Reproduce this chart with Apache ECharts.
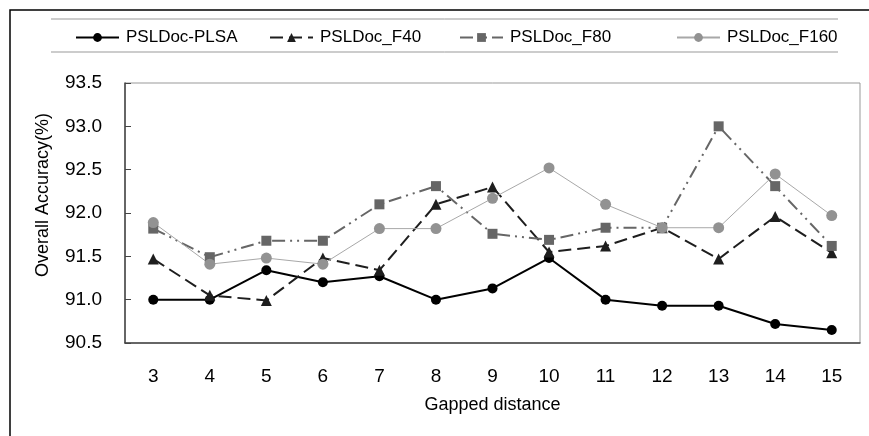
<!DOCTYPE html>
<html>
<head>
<meta charset="utf-8">
<script src="https://cdn.jsdelivr.net/npm/echarts@6/dist/echarts.min.js"></script>
<style>
html,body{margin:0;padding:0;background:#fff;}
#chart{width:869px;height:436px;}
</style>
</head>
<body>
<div id="chart"></div>
<script>
const categories = ['3','4','5','6','7','8','9','10','11','12','13','14','15'];
const seriesNames = ['PSLDoc-PLSA','PSLDoc_F40','PSLDoc_F80','PSLDoc_F160'];
const plsa = [91.00, 91.00, 91.34, 91.20, 91.27, 91.00, 91.13, 91.48, 91.00, 90.93, 90.93, 90.72, 90.65];
const f40  = [91.47, 91.05, 90.99, 91.48, 91.34, 92.10, 92.30, 91.55, 91.62, 91.83, 91.47, 91.96, 91.54];
const f80  = [91.82, 91.49, 91.68, 91.68, 92.10, 92.31, 91.76, 91.69, 91.83, 91.83, 93.00, 92.31, 91.62];
const f160 = [91.89, 91.41, 91.48, 91.41, 91.82, 91.82, 92.17, 92.52, 92.10, 91.83, 91.83, 92.45, 91.97];
const yTicks = { min: 90.5, max: 93.5, step: 0.5 };

const FONT = 'Liberation Sans, Arial, sans-serif';
const chart = echarts.init(document.getElementById('chart'));

function legendItem(name, left) {
  return {
    data: [name], left: left, top: 29, padding: 0, itemWidth: 43, itemHeight: 11, itemGap: 0,
    textStyle: { fontFamily: FONT, fontSize: 17, color: '#000', padding: [0,0,0,2] },
    selectedMode: false
  };
}

chart.setOption({
  backgroundColor: '#fff',
  animation: false,
  textStyle: { fontFamily: FONT },
  graphic: [
    { type: 'rect', shape: { x: 10, y: 10, width: 1000, height: 600 },
      style: { fill: 'none', stroke: '#000', lineWidth: 1.5 }, silent: true },
    { type: 'line', shape: { x1: 51, y1: 19, x2: 838, y2: 19 },
      style: { stroke: '#999', lineWidth: 1 }, silent: true },
    { type: 'line', shape: { x1: 51, y1: 52, x2: 838, y2: 52 },
      style: { stroke: '#999', lineWidth: 1 }, silent: true },
    { type: 'text', x: 43, y: 195, rotation: Math.PI / 2,
      style: { text: 'Overall Accuracy(%)', fontFamily: FONT, fontSize: 18, fill: '#000',
               textAlign: 'center', textVerticalAlign: 'middle' }, silent: true }
  ],
  legend: [
    legendItem(seriesNames[0], 75),
    legendItem(seriesNames[1], 269),
    legendItem(seriesNames[2], 459),
    legendItem(seriesNames[3], 676)
  ],
  grid: { left: 125, right: 9, top: 83, bottom: 93, show: true, borderColor: '#999', borderWidth: 1 },
  xAxis: {
    type: 'category', data: categories, boundaryGap: true,
    name: 'Gapped distance', nameLocation: 'middle', nameGap: 53,
    nameTextStyle: { fontFamily: FONT, fontSize: 18, color: '#000' },
    axisLine: { lineStyle: { color: '#444', width: 1.5 } },
    axisTick: { alignWithLabel: true, length: 5, lineStyle: { color: '#444' } },
    axisLabel: { fontFamily: FONT, fontSize: 19, color: '#000', margin: 24 },
    splitLine: { show: false }
  },
  yAxis: {
    type: 'value', min: yTicks.min, max: yTicks.max, interval: yTicks.step,
    axisLine: { show: true, lineStyle: { color: '#444', width: 1.5 } },
    axisTick: { show: true, inside: true, length: 6, lineStyle: { color: '#444' } },
    axisLabel: { fontFamily: FONT, fontSize: 19, color: '#000', margin: 23,
                 formatter: v => v.toFixed(1) },
    splitLine: { show: false }
  },
  series: [
    { name: seriesNames[0], type: 'line', data: plsa, symbol: 'circle', symbolSize: 10,
      itemStyle: { color: '#000' }, lineStyle: { color: '#000', width: 2 } },
    { name: seriesNames[1], type: 'line', data: f40, symbol: 'triangle', symbolSize: 11,
      itemStyle: { color: '#1e1e1e' }, lineStyle: { color: '#1e1e1e', width: 2, type: [13, 6] } },
    { name: seriesNames[2], type: 'line', data: f80, symbol: 'rect', symbolSize: 10,
      itemStyle: { color: '#666' }, lineStyle: { color: '#666', width: 2, type: [13, 5, 2, 5, 2, 5] } },
    { name: seriesNames[3], type: 'line', data: f160, symbol: 'circle', symbolSize: 11,
      itemStyle: { color: '#929292' }, lineStyle: { color: '#a8a8a8', width: 1 } }
  ]
});
</script>
</body>
</html>
